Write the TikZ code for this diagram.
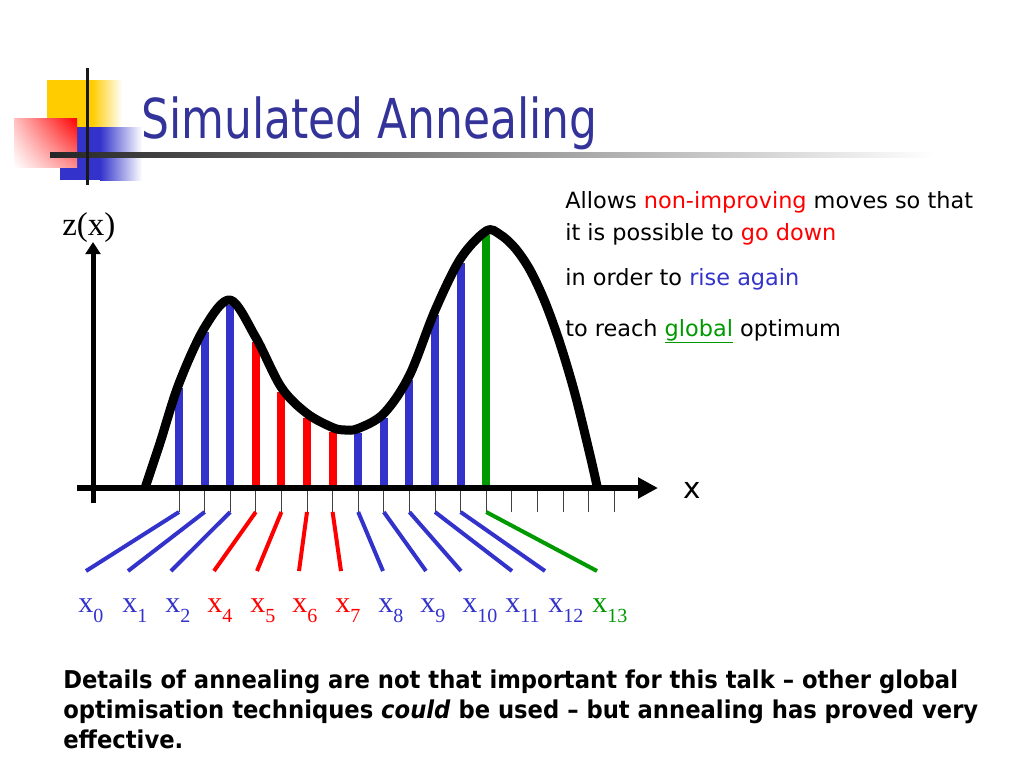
\documentclass[tikz,border=0pt]{standalone}
\usepackage{fontspec}
\setmainfont{Liberation Serif}
\newfontfamily\sansf{DejaVu Sans}
\newfontfamily\titlef[FakeStretch=0.8]{DejaVu Sans}
\newfontfamily\boldf[FakeStretch=0.925]{DejaVu Sans}
\usetikzlibrary{arrows.meta,shadings}
\definecolor{myblue}{RGB}{51,51,204}
\definecolor{myred}{RGB}{255,0,0}
\definecolor{mygreen}{RGB}{0,153,0}
\definecolor{titleblue}{RGB}{51,51,153}
\definecolor{logoyellow}{RGB}{255,204,0}
\begin{document}
\begin{tikzpicture}[x=0.75pt,y=-0.75pt,
  txt/.style={inner sep=0pt, anchor=base west},
  bar/.style={line width=6pt},
  conn/.style={line width=3pt},
  tickline/.style={line width=0.75pt, black!75},
  curveline/.style={line width=6.75pt, black, line join=round},
  lab/.style={inner sep=0pt, anchor=base west}]
\useasboundingbox (0,0) rectangle (1024,768);
% logo
\fill[logoyellow] (47,80) rectangle (92,127);
\shade[left color=logoyellow, right color=white] (92,80) rectangle (122,127);
\fill[myblue] (60,127) rectangle (100,180);
\shade[left color=myblue, right color=white] (100,127) rectangle (142,180);
\shade[upper left=red!25!white, upper right=red, lower left=white, lower right=red!45!white] (14,118) rectangle (77,167);
\shade[left color=black!85, right color=white] (50,152.5) rectangle (935,157.5);
\draw[line width=2.25pt, black!90] (87,68) -- (87,185);
% title
\node[txt, text=titleblue] (title) at (141,138) {\titlef\fontsize{41.25pt}{45pt}\selectfont Simulated Annealing};
% bars
\foreach \i/\t/\c in {0/388/myblue,1/332/myblue,2/305/myblue,3/342/myred,4/392/myred,5/418/myred,6/432/myred,7/433/myblue,8/418/myblue,9/380/myblue,10/315/myblue,11/263/myblue,12/235/mygreen}
  \draw[bar,\c] ({179+25.6*\i},488) -- ({179+25.6*\i},\t);
% curve
\draw[curveline] plot[smooth, tension=0.55] coordinates {(145,488) (160,443) (179,383.5) (204.6,327.5) (230.2,300) (255.8,337.5) (281.4,387.5) (307,413.5) (332.6,427.5) (345,430) (358.2,428.5) (383.8,413.5) (409.4,375.5) (435,310.5) (460.6,258.5) (486.2,231) (500,234.5) (515,248) (530,270) (545,302) (560,343.5) (575,394) (590,455) (597,486)};
% ticks
\foreach \i in {0,...,17}
  \draw[tickline] ({179+25.6*\i},488) -- ({179+25.6*\i},512);
% axes
\coordinate (yb) at (93,503);
\coordinate (yt) at (93,242);
\coordinate (xb) at (77,488);
\coordinate (xt) at (658,488);
\draw[line width=3.75pt, -{Triangle[length=9pt, width=11pt]}] (yb) -- (yt);
\draw[line width=4.5pt, -{Triangle[length=15pt, width=15pt]}] (xb) -- (xt);
\node[txt] (zx) at (62,235) {\fontsize{24.75pt}{28pt}\selectfont z(x)};
\node[inner sep=0pt] (xl) at (692,490) {\sansf\fontsize{22pt}{24pt}\selectfont x};
% connectors
\foreach \i/\e/\c in {0/86/myblue,1/128/myblue,2/171/myblue,3/214/myred,4/257/myred,5/299/myred,6/341/myred,7/383/myblue,8/426/myblue,9/461/myblue,10/512/myblue,11/545/myblue,12/597/mygreen} {
  \coordinate (tk\i) at ({179+25.6*\i},512);
  \coordinate (le\i) at (\e,571);
  \draw[conn,\c] (tk\i) -- (le\i);
}
% labels
\foreach \n/\x/\s/\c in {0/78/0/myblue,1/122/1/myblue,2/165/2/myblue,3/207/4/myred,4/250/5/myred,5/292/6/myred,6/335/7/myred,7/378/8/myblue,8/420/9/myblue,9/462/10/myblue,10/505/11/myblue,11/548/12/myblue,12/592/13/mygreen}
  \node[lab, text=\c] (lab\n) at (\x,612) {\fontsize{22.5pt}{24pt}\selectfont x\raisebox{-7.5pt}{\fontsize{15pt}{16pt}\selectfont \s}};
% right text
\begin{scope}[every node/.style={txt, font=\sansf\fontsize{16.8pt}{20pt}\selectfont}]
\node (r1) at (565,208) {Allows \textcolor{myred}{non-improving} moves so that};
\node (r2) at (565,240) {it is possible to \textcolor{myred}{go down}};
\node (r3) at (565,285) {in order to \textcolor{myblue}{rise again}};
\node (r4) at (565,336) {to reach {\color{mygreen}\underline{global}} optimum};
\end{scope}
% bottom text
\begin{scope}[every node/.style={txt, font=\boldf\bfseries\fontsize{18.4pt}{22pt}\selectfont}]
\node (b1) at (63,688) {Details of annealing are not that important for this talk – other global};
\node (b2) at (63,718) {optimisation techniques \textit{could} be used – but annealing has proved very};
\node (b3) at (63,748) {effective.};
\end{scope}
\end{tikzpicture}
\end{document}
